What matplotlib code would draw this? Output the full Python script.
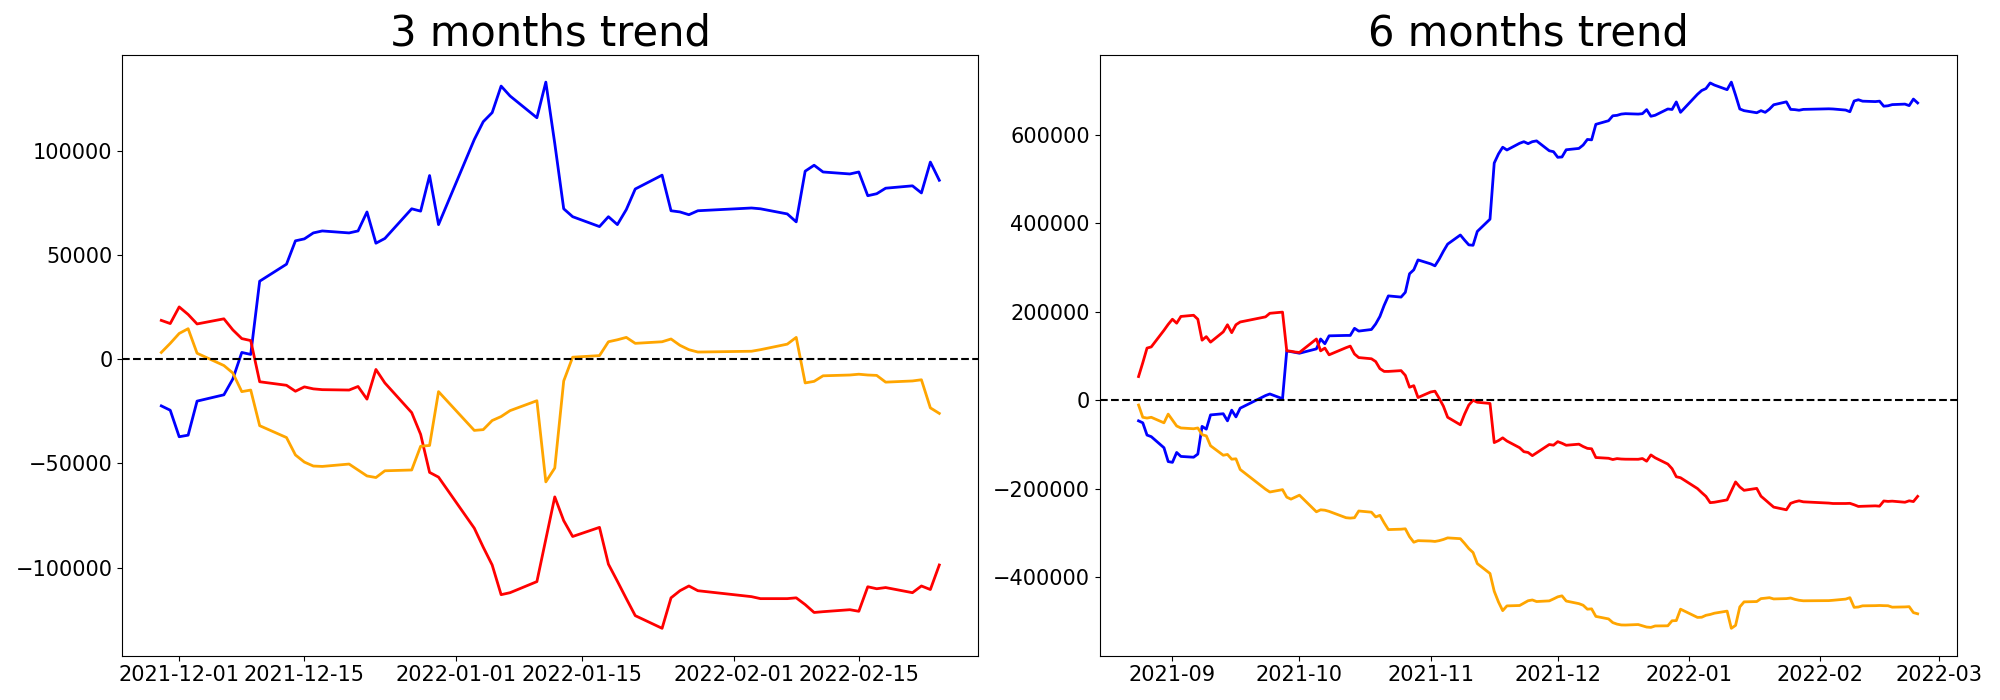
import matplotlib
matplotlib.use("Agg")
import matplotlib.pyplot as plt
import pandas as pd

# Korean market holidays (no trading) within the period
holidays = ["2021-09-20", "2021-09-21", "2021-09-22", "2021-10-04", "2021-10-11",
            "2021-12-31", "2022-01-31", "2022-02-01", "2022-02-02"]

dates_3m = pd.bdate_range("2021-11-29", "2022-02-24", freq="C", holidays=holidays)
dates_6m = pd.bdate_range("2021-08-24", "2022-02-24", freq="C", holidays=holidays)

# ---------------- 3 months ----------------
blue_3m = [-22390, -24480, -37190, -36430, -20110, -17080, -9490, 3225, 2280, 37380,
           45540, 56740, 57680, 60530, 61480, 60530, 61480, 70590, 55600, 57870,
           72100, 70970, 88040, 64520, 105310, 113850, 118210, 130930, 126180, 115750,
           132830, 103400, 72100, 68310, 63570, 68310, 64520, 71730, 81590, 88230,
           71160, 70590, 69260, 71160, 72480, 72100, 69640, 65840, 90130, 92980,
           89750, 88800, 89750, 78370, 79320, 81970, 83110, 79700, 94500, 85770]
red_3m = [18600, 17080, 25050, 21440, 16890, 19350, 14040, 9870, 8920, -10820,
          -12520, -15370, -13280, -14230, -14610, -14800, -13090, -19160, -4930, -11390,
          -25620, -36050, -54270, -56550, -81020, -90130, -98670, -112900, -111950, -106640,
          -86330, -66030, -77420, -85010, -80640, -98290, -106450, -114800, -122960, -129030,
          -114420, -111000, -108730, -111000, -113850, -114800, -114800, -114420, -117650, -121440,
          -121060, -120110, -120870, -109110, -110060, -109490, -111950, -108730, -110440, -98670]
orange_3m = [3225, 7590, 12330, 14610, 2850, -3040, -6640, -15560, -14800, -31880,
             -37570, -45920, -49340, -51230, -51420, -50280, -53130, -55980, -56740, -53510,
             -53130, -41750, -41370, -15560, -34150, -33780, -29410, -27510, -24670, -19920,
             -58820, -52180, -10440, 950, 1710, 8350, 9300, 10440, 7590, 8350,
             9680, 6640, 4550, 3420, 3800, 4550, 7210, 10440, -11390, -10630,
             -7970, -7590, -7210, -7590, -7780, -11010, -10440, -9870, -23340, -26000]

# ---------------- 6 months ----------------
blue_6m = [-46490, -50960, -78680, -82260, -107290, -138590, -140370, -118020, -126960, -128750,
           -121600, -59010, -65270, -33080, -30400, -46490, -22350, -37550, -17880, 10730,
           14310, 3580, 111760, 109970, 108190, 106400, 116230, 138590, 127860, 145740,
           146630, 146630, 162730, 156470, 160040, 172560, 189550, 214580, 236040, 233360,
           244090, 286110, 295050, 317410, 308460, 303990, 319190, 337070, 353170, 373730,
           362110, 351380, 350490, 381780, 409500, 536460, 557020, 572220, 565960, 581170,
           584740, 580270, 584740, 586530,
           564210, 562120, 549410, 550170, 566490, 569520, 577110, 589825, 588880, 623980,
           632140, 643340, 644280, 647130, 648080, 647130, 648080, 657190, 642200, 644470,
           658700, 657570, 674640, 651120, 691910, 700450, 704810, 717530, 712780, 702350,
           719430, 690000, 658700, 654910, 650170, 654910, 651120, 658330, 668190, 674830,
           657760, 657190, 655860, 657760, 659080, 658700, 656240, 652440, 676730, 679580,
           676350, 675400, 676350, 664970, 665920, 668570, 669710, 666300, 681100, 672370]
red_6m = [53650, 84940, 118020, 120700, 158260, 171670, 183290, 174350, 189550, 192230,
          183290, 135900, 143950, 131430, 154680, 170770, 152890, 170770, 177030, 188660,
          196700, 199380, 111760, 110870, 109080, 108190, 138590, 111760, 118020, 102820,
          118920, 122490, 104610, 96560, 93880, 87620, 71530, 65270, 65270, 67060,
          56330, 29510, 33080, 6260, 18780, 20560, 4470, -13410, -38450, -55430,
          -31290, -10730, 0, -4470, -7150, -95670, -91200, -84940, -92090, -107290,
          -116230, -118020, -125170, -118920,
          -100000, -101520, -93550, -97160, -101710, -99250, -104560, -108730, -109680, -129420,
          -131120, -133970, -131880, -132830, -133210, -133400, -131690, -137760, -123530, -129990,
          -144220, -154650, -172870, -175150, -199620, -208730, -217270, -231500, -230550, -225240,
          -204930, -184630, -196020, -203610, -199240, -216890, -225050, -233400, -241560, -247630,
          -233020, -229600, -227330, -229600, -232450, -233400, -233400, -233020, -236250, -240040,
          -239660, -238710, -239470, -227710, -228660, -228090, -230550, -227330, -229040, -217270]
orange_6m = [-10730, -38450, -40230, -38450, -50960, -31290, -44710, -58120, -62590, -64380,
             -62590, -77790, -80470, -102820, -124280, -122490, -133220, -132330, -156470, -201170,
             -207430, -202070, -219050, -223530, -219050, -214580, -252140, -247670, -248560, -251240,
             -265550, -266440, -265550, -250350, -253030, -263760, -260180, -277170, -292370, -291480,
             -290580, -308460, -320980, -317410, -318300, -319190, -317410, -314720, -311150, -312940,
             -323670, -335290, -344230, -369260, -391620, -431850, -455990, -475660, -464930, -464040,
             -458670, -453310, -451520, -455090,
             -453575, -449210, -444470, -442190, -453950, -459840, -463440, -472360, -471600, -488680,
             -494370, -502720, -506140, -508030, -508220, -507080, -509930, -512780, -513540, -510310,
             -509930, -498550, -498170, -472360, -490950, -490580, -486210, -484310, -481470, -476720,
             -515620, -508980, -467240, -455850, -455090, -448450, -447500, -446360, -449210, -448450,
             -447120, -450160, -452250, -453380, -453000, -452250, -449590, -446360, -468190, -467430,
             -464770, -464390, -464010, -464390, -464580, -467810, -467240, -466670, -480140, -482800]

titles = ["3 months trend", "6 months trend"]

fig = plt.figure(figsize=(20, 7), dpi=100)
ax1 = fig.add_axes([0.0612, 0.0634, 0.4279, 0.8583])
ax2 = fig.add_axes([0.5498, 0.0634, 0.4285, 0.8583])

panels = [
    (ax1, dates_3m, blue_3m, red_3m, orange_3m, titles[0]),
    (ax2, dates_6m, blue_6m, red_6m, orange_6m, titles[1]),
]
for ax, d, b, r, o, title in panels:
    ax.plot(d, b, color="blue", lw=2)
    ax.plot(d, r, color="red", lw=2)
    ax.plot(d, o, color="orange", lw=2)
    ax.axhline(0, color="black", linestyle="--", lw=1.5)
    ax.set_title(title, fontsize=30)
    ax.tick_params(labelsize=15)

fig.savefig("out.png", dpi=100)
